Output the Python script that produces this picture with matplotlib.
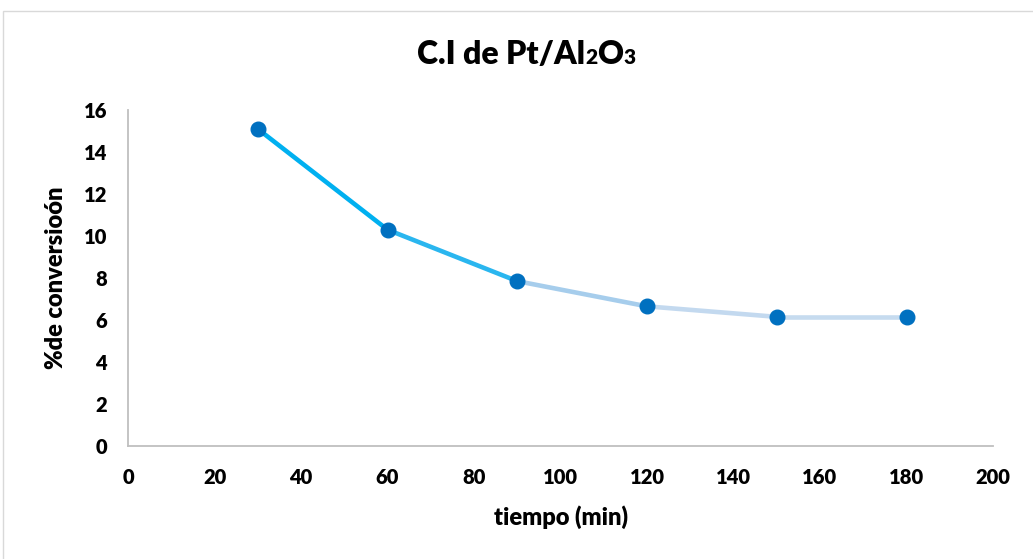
import numpy as np
import matplotlib
matplotlib.use("Agg")
import matplotlib.pyplot as plt
import matplotlib.patches as mpatches
from matplotlib.collections import LineCollection
from matplotlib.offsetbox import TextArea, HPacker, AnchoredOffsetbox

# data
tiempo = [30, 60, 90, 120, 150, 180]
conversion = [15.1, 10.3, 7.85, 6.65, 6.15, 6.15]
x_ticks = [0, 20, 40, 60, 80, 100, 120, 140, 160, 180, 200]
y_ticks = [0, 2, 4, 6, 8, 10, 12, 14, 16]

# line colour fades from cyan to pale blue, one colour per segment
seg_colors = ["#00B0F0", "#2AB6EF", "#A6CDEC", "#C3D9EF", "#C6DBEF"]

plt.rcParams['font.family'] = ['Lato', 'DejaVu Sans']
plt.rcParams['font.weight'] = 'heavy'
W = 'heavy'

fig = plt.figure(figsize=(10.33, 5.59), dpi=100)
ax = fig.add_axes([128 / 1033, 1 - 446 / 559, 865 / 1033, 336 / 559])

#
# outer chart border
#
fig.patches.append(mpatches.Rectangle(
    (3 / 1033, -0.05), 1.2, 1.05 - 11 / 559,
    transform=fig.transFigure, fill=False,
    edgecolor="#D9D9D9", linewidth=1.0))

#
# gradient line + markers
#
pts = np.column_stack([tiempo, conversion])
segments = np.stack([pts[:-1], pts[1:]], axis=1)
lc = LineCollection(segments, colors=seg_colors, linewidths=3.3,
                    capstyle='round', joinstyle='round', zorder=2)
ax.add_collection(lc)
ax.plot(tiempo, conversion, linestyle='none', marker='o', markersize=10.5,
        color="#0070C0", zorder=3)

ax.set_xlim(0, 200)
ax.set_ylim(0, 16)
ax.set_xticks(x_ticks)
ax.set_yticks(y_ticks)
ax.tick_params(length=0, labelsize=14.5, colors="black")
ax.tick_params(axis='y', pad=15)
ax.tick_params(axis='x', pad=16)
for lbl in ax.get_xticklabels() + ax.get_yticklabels():
    lbl.set_fontweight(W)

for side in ['top', 'right']:
    ax.spines[side].set_visible(False)
for side in ['left', 'bottom']:
    ax.spines[side].set_color("#BFBFBF")
    ax.spines[side].set_linewidth(1.3)

ax.set_xlabel("tiempo (min)", fontsize=17, fontweight=W, labelpad=13)
ax.set_ylabel("%de conversioón", fontsize=17, fontweight=W, labelpad=12)

#
# title with small subscripts on the baseline
#
big = dict(size=23, weight=W, color='black')
small = dict(size=15, weight=W, color='black')
parts = [TextArea("C.I de Pt/Al", textprops=big),
         TextArea("2", textprops=small),
         TextArea("O", textprops=big),
         TextArea("3", textprops=small)]
title_box = HPacker(children=parts, align="baseline", pad=0, sep=0)
anchored = AnchoredOffsetbox(loc='center', child=title_box, frameon=False,
                             bbox_to_anchor=(526 / 1033, 1 - 55 / 559),
                             bbox_transform=fig.transFigure, borderpad=0, pad=0)
fig.add_artist(anchored)

plt.savefig("out.png", dpi=100)
